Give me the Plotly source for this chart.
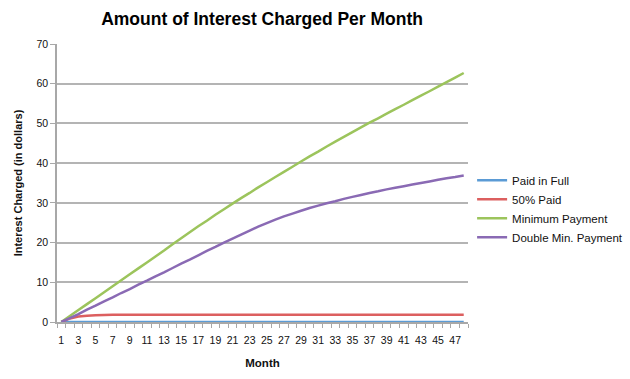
import plotly.graph_objects as go

months = list(range(1, 49))
tick_months = list(range(1, 48, 2))

paid_in_full = [0.0] * 48
fifty_paid = [0.0, 0.9, 1.4, 1.6, 1.7, 1.75] + [1.8] * 42
minimum_payment = [0.0, 1.5, 3.0, 4.5, 6.0, 7.5, 9.0, 10.5, 12.0, 13.5, 15.0, 16.5,
                   18.0, 19.6, 21.1, 22.6, 24.1, 25.5, 27.0, 28.4, 29.8, 31.2, 32.5, 33.9,
                   35.2, 36.5, 37.8, 39.1, 40.4, 41.7, 42.9, 44.2, 45.4, 46.6, 47.8, 49.0,
                   50.2, 51.3, 52.45, 53.6, 54.7, 55.85, 57.0, 58.1, 59.25, 60.4, 61.55, 62.7]
double_min_payment = [0.0, 1.0, 2.0, 3.1, 4.1, 5.2, 6.2, 7.3, 8.3, 9.4, 10.4, 11.5,
                      12.5, 13.6, 14.7, 15.7, 16.8, 17.9, 18.9, 20.0, 21.0, 22.0, 23.0, 24.0,
                      24.9, 25.8, 26.6, 27.3, 28.0, 28.7, 29.3, 29.9, 30.4, 31.0, 31.5, 32.0,
                      32.5, 32.9, 33.4, 33.8, 34.2, 34.6, 35.0, 35.4, 35.8, 36.2, 36.5, 36.9]

series = [
    ("Paid in Full", paid_in_full, "#5b9bd5"),
    ("50% Paid", fifty_paid, "#dc5f5f"),
    ("Minimum Payment", minimum_payment, "#9cc45c"),
    ("Double Min. Payment", double_min_payment, "#8a6ab4"),
]

fig = go.Figure()
for name, vals, color in series:
    fig.add_trace(go.Scatter(x=months, y=vals, name=name, mode="lines",
                             line=dict(color=color, width=2.5, simplify=False)))

fig.update_layout(
    width=630, height=379,
    margin=dict(l=57, r=162, t=44, b=57, autoexpand=False),
    paper_bgcolor="white", plot_bgcolor="white",
    font=dict(family="Liberation Sans, Arial, sans-serif", color="#111111"),
    title=dict(text="<b>Amount of Interest Charged Per Month</b>",
               font=dict(family="Liberation Sans, Arial", size=17.5, color="#000"),
               x=0.416, xanchor="center", y=0.95, yanchor="middle"),
    showlegend=True,
    legend=dict(x=1.01, xanchor="left", y=0.407, yanchor="middle",
                font=dict(size=11.5, color="#111"), tracegroupgap=0,
                bgcolor="rgba(0,0,0,0)"),
    xaxis=dict(range=[0.5, 48.5], tickvals=tick_months, ticktext=[str(m) for m in tick_months],
               ticks="", showgrid=False, zeroline=False, showline=True,
               linecolor="#a8a8a8", linewidth=1.5, layer="below traces",
               tickfont=dict(size=10.5, color="#111"), ticklabelstandoff=8,
               minor=dict(ticks="outside", tick0=0.5, dtick=1, ticklen=4,
                          tickcolor="#a8a8a8", tickwidth=1, showgrid=False),
               title=dict(text="<b>Month</b>", font=dict(size=11.5, color="#111"), standoff=14)),
    yaxis=dict(range=[0, 70], dtick=10, showgrid=True, gridcolor="#b4b4b4", gridwidth=1.5,
               zeroline=False, showline=True, linecolor="#a8a8a8", linewidth=1.5,
               ticks="outside", ticklen=5, tickcolor="#a8a8a8", layer="below traces",
               tickfont=dict(size=10.5, color="#111"),
               title=dict(text="<b>Interest Charged (in dollars)</b>",
                          font=dict(size=11, color="#111"), standoff=12)),
)

fig.write_html("out.html", config={"displayModeBar": False},
               post_script="document.body.style.margin='0';")
